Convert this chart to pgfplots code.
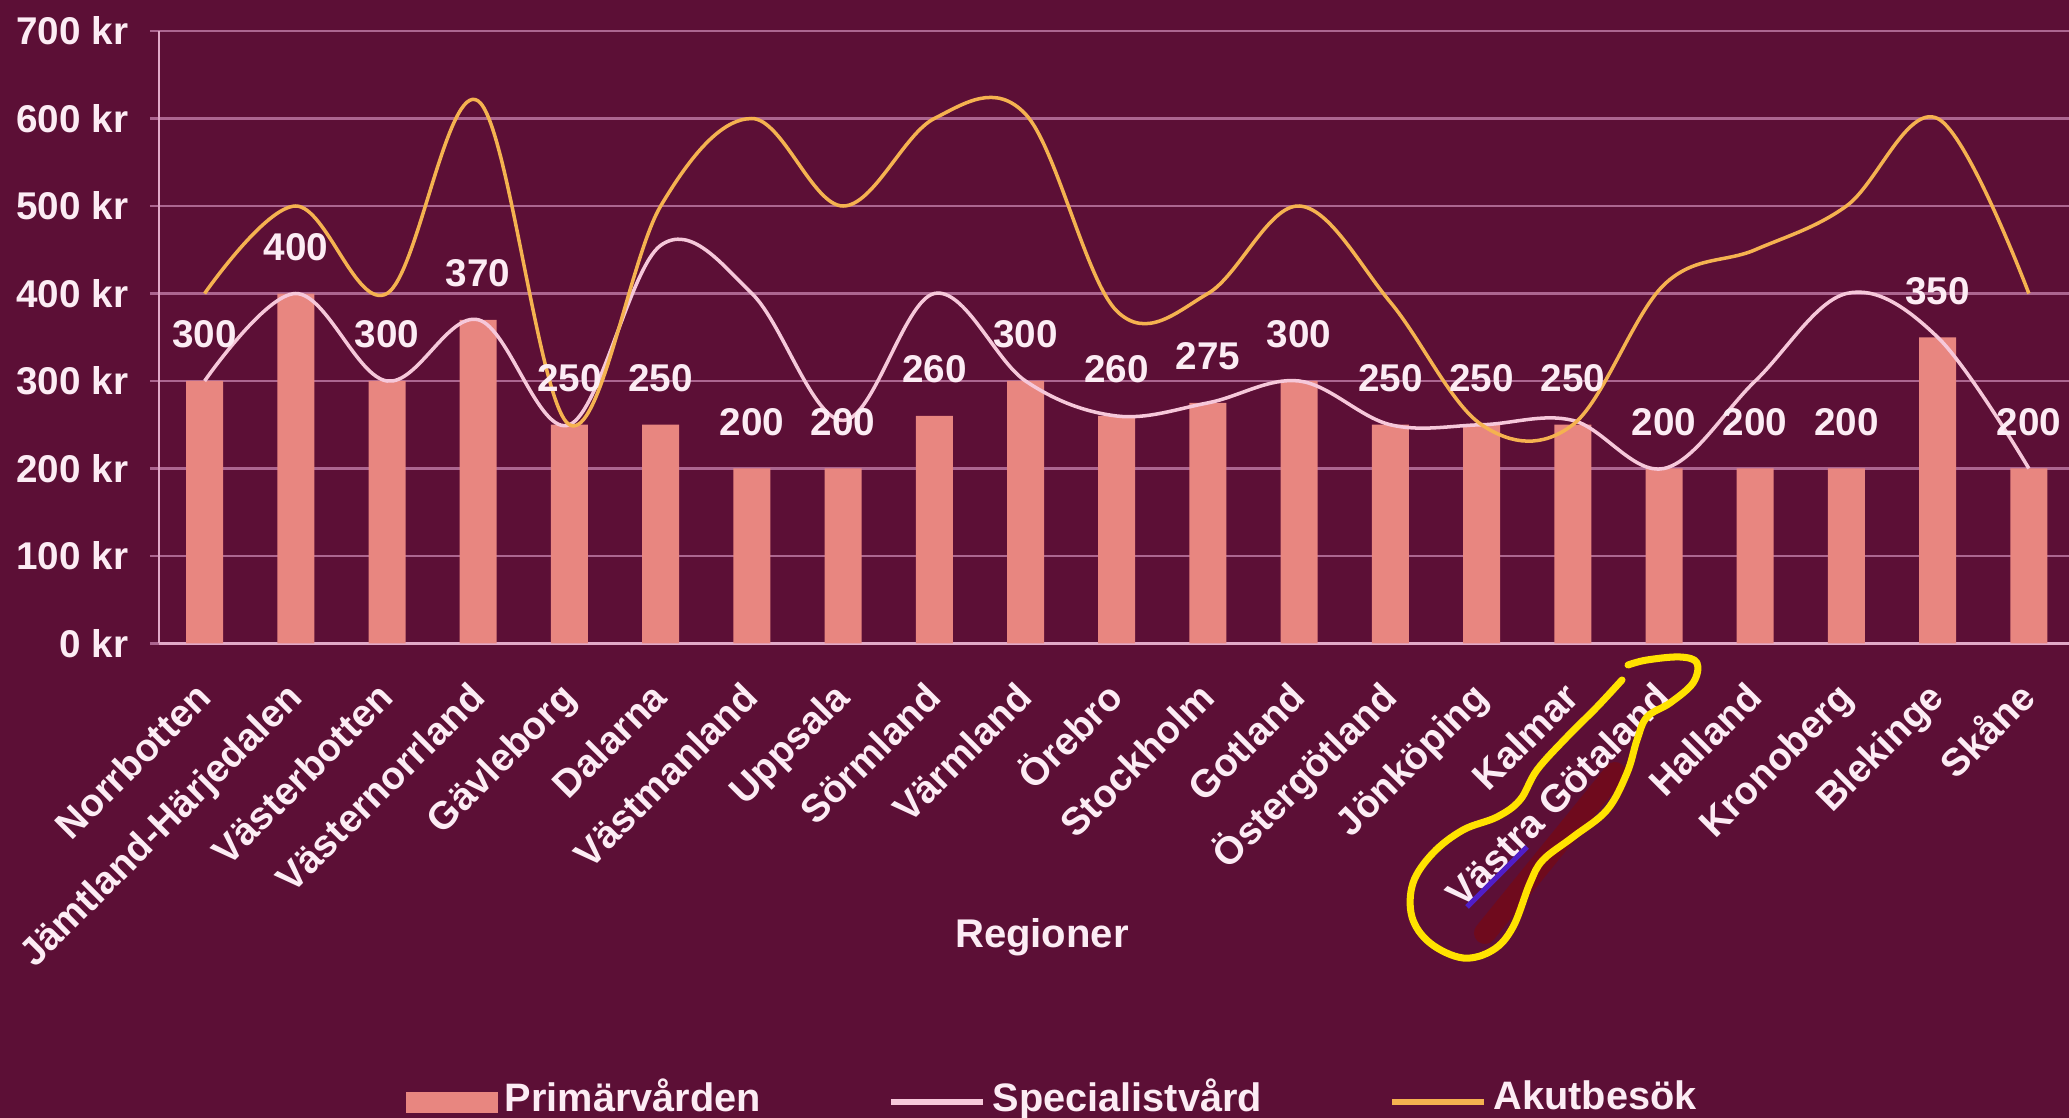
\documentclass[border=0pt]{standalone}
\usepackage{pgfplots}
\pgfplotsset{compat=1.18}
\usepackage{fontspec}
\setmainfont{Liberation Sans}
\definecolor{bgcol}{RGB}{92,15,54}
\definecolor{barcol}{RGB}{232,134,128}
\definecolor{speccol}{RGB}{246,200,218}
\definecolor{akutcol}{RGB}{245,178,80}
\definecolor{gridcol}{RGB}{172,102,144}
\definecolor{axcol}{RGB}{225,170,200}
\definecolor{txtcol}{RGB}{252,236,244}
\definecolor{smudge}{RGB}{115,10,25}
\definecolor{loopcol}{RGB}{255,226,0}
\definecolor{bluecol}{RGB}{80,30,200}
\begin{document}
\begin{tikzpicture}
\fill[bgcol] (0,0) rectangle (20.69,11.18);
\useasboundingbox (0,0) rectangle (20.69,11.18);
\draw[line width=0.22cm, line cap=round, smudge, opacity=0.85] (14.85,1.85) -- (16.15,3.45);
\begin{axis}[
  at={(1.59cm,4.745cm)}, anchor=south west,
  scale only axis, width=19.10cm, height=6.125cm,
  xmin=-0.5, xmax=20.44, ymin=0, ymax=700,
  axis lines*=left,
  axis line style={axcol, line width=0.8pt},
  ytick={0,100,...,700},
  yticklabels={0 kr,100 kr,200 kr,300 kr,400 kr,500 kr,600 kr,700 kr},
  xtick={0,...,20},
  xticklabels={Norrbotten,Jämtland-Härjedalen,Västerbotten,Västernorrland,Gävleborg,Dalarna,Västmanland,Uppsala,Sörmland,Värmland,Örebro,Stockholm,Gotland,Östergötland,Jönköping,Kalmar,Västra Götaland,Halland,Kronoberg,Blekinge,Skåne},
  ymajorgrids, grid style={gridcol, line width=0.8pt},
  tick align=outside, major tick length=0.09cm,
  xtick style={draw=none},
  ytick style={gridcol, line width=0.8pt},
  yticklabel style={font=\bfseries\fontsize{11}{13}\selectfont, text=txtcol, inner sep=0pt, anchor=east, xshift=-0.21cm},
  xticklabel style={xshift=0.09cm, yshift=-0.47cm, rotate=45, anchor=base east, inner sep=0pt, font=\bfseries\fontsize{11}{13}\selectfont, text=txtcol},
  xlabel={Regioner},
  xlabel style={at={(axis description cs:0.4623,-0.479)}, anchor=center, font=\bfseries\fontsize{11.4}{14}\selectfont, text=txtcol},
  /pgf/number format/assume math mode=true,
  legend columns=3,
  legend style={at={(axis description cs:0.4690,-0.742)}, anchor=center, draw=none, fill=none,
    font=\bfseries\fontsize{11.3}{13}\selectfont, text=txtcol,
    /tikz/every even column/.append style={column sep=1.2cm}},
]
\addplot[ybar, bar width=0.37cm, fill=barcol, draw=none,
  nodes near coords,
  nodes near coords style={font=\bfseries\fontsize{11}{13}\selectfont, text=txtcol, inner sep=0pt, anchor=south, yshift=0.32cm},
  legend image code/.code={\fill[barcol] (0cm,-0.15cm) rectangle (0.92cm,0.06cm);}]
coordinates {(0,300) (1,400) (2,300) (3,370) (4,250) (5,250) (6,200) (7,200) (8,260) (9,300) (10,260) (11,275) (12,300) (13,250) (14,250) (15,250) (16,200) (17,200) (18,200) (19,350) (20,200)};
\addlegendentry{Primärvården}
\addplot[speccol, line width=1pt, smooth, tension=0.6, mark=none,
  legend image code/.code={\draw[speccol, line width=1.6pt] (0cm,-0.04cm) -- (0.92cm,-0.04cm);}]
coordinates {(0,300) (1,400) (2,300) (3,370) (4,250) (5,455) (6,400) (7,255) (8,400) (9,300) (10,260) (11,275) (12,300) (13,250) (14,250) (15,255) (16,200) (17,300) (18,400) (19,350) (20,200)};
\addlegendentry{Specialistvård}
\addplot[akutcol, line width=1pt, smooth, tension=0.6, mark=none,
  legend image code/.code={\draw[akutcol, line width=1.6pt] (0cm,-0.04cm) -- (0.92cm,-0.04cm);}]
coordinates {(0,400) (1,500) (2,400) (3,620) (4,250) (5,500) (6,600) (7,500) (8,600) (9,605) (10,380) (11,400) (12,500) (13,390) (14,250) (15,250) (16,410) (17,450) (18,500) (19,600) (20,400)};
\addlegendentry{Akutbesök}
\end{axis}
\draw[bluecol, line width=1.5pt] (14.67,2.11) -- (15.27,2.71);
\draw[loopcol, line width=2pt, line cap=round, line join=round] plot[smooth, tension=0.6] coordinates {
(16.22,4.38) (15.97,4.11) (15.67,3.81) (15.37,3.48) (15.20,3.18) (14.97,3.01) (14.63,2.88) (14.33,2.65) (14.13,2.35) (14.12,2.01) (14.30,1.75) (14.63,1.60) (14.93,1.68) (15.13,1.91) (15.30,2.35) (15.43,2.58) (15.73,2.81) (16.07,3.08) (16.27,3.45) (16.37,3.78) (16.47,4.01) (16.70,4.15) (16.93,4.35) (16.97,4.55) (16.80,4.61) (16.47,4.58) (16.28,4.53)};
\end{tikzpicture}
\end{document}
